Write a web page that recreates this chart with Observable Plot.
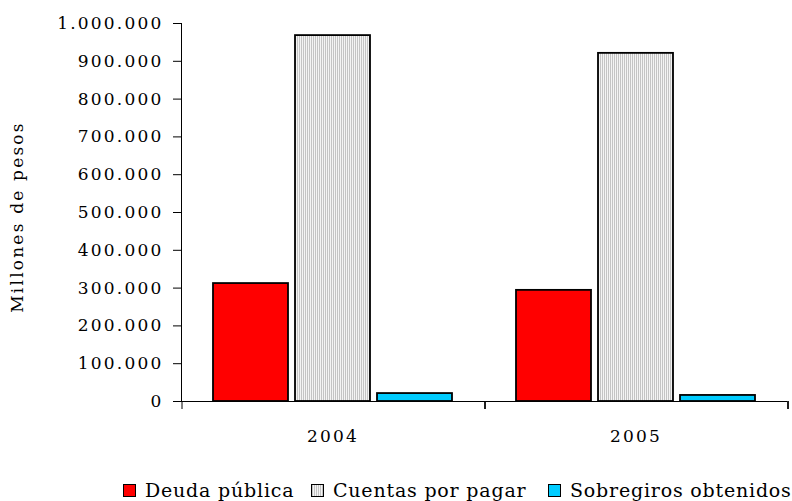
<!DOCTYPE html>
<html>
<head>
<meta charset="utf-8">
<script src="https://cdn.jsdelivr.net/npm/d3@7"></script>
<script src="https://cdn.jsdelivr.net/npm/@observablehq/plot@0.6"></script>
<style>
  html, body { margin: 0; padding: 0; background: #fff; }
  #chart { width: 792px; }
  .legend { position: relative; height: 31px; font-family: "DejaVu Serif", serif; font-size: 19px; letter-spacing: 0.8px; color: #000; }
  .legend .item { position: absolute; top: 10px; display: flex; align-items: center; white-space: nowrap; line-height: 21px; }
  .legend .sw { width: 11px; height: 11px; border: 1.5px solid #000; margin-right: 9px; box-sizing: content-box; }
</style>
</head>
<body>
<div id="chart"></div>
<script>
// ---- data ----
const years = ["2004", "2005"];
const seriesNames = ["Deuda pública", "Cuentas por pagar", "Sobregiros obtenidos"];
const deudaPublica = [312000, 294000];
const cuentasPorPagar = [968000, 921000];
const sobregiros = [21000, 16000];
const yTicks = [0, 100000, 200000, 300000, 400000, 500000, 600000, 700000, 800000, 900000, 1000000];
const seriesColors = ["#ff0000", "url(#stripes)", "#00ccff"];
const yLabel = "Millones de pesos";

const valuesBySeries = [deudaPublica, cuentasPorPagar, sobregiros];
const table = [];
years.forEach((yr, i) => seriesNames.forEach((s, j) => table.push({year: yr, series: s, value: valuesBySeries[j][i]})));

const fmt = d3.formatLocale({decimal: ",", thousands: ".", grouping: [3], currency: ["", ""]}).format(",d");

// short category-boundary ticks below the baseline, placed with the fx scale
const boundaryTicks = (index, scales, values, dimensions) => {
  const g = d3.create("svg:g");
  const y0 = scales.y(0);
  let edges;
  if (scales.fx && scales.fx.bandwidth) {
    const fx = scales.fx;
    edges = years.flatMap(k => [fx(k), fx(k) + fx.bandwidth()]);
  } else {
    edges = [dimensions.marginLeft, dimensions.width - dimensions.marginRight];
  }
  for (const x of edges) {
    g.append("line").attr("x1", x).attr("x2", x).attr("y1", y0).attr("y2", y0 + 8)
      .attr("stroke", "#000").attr("stroke-width", 1);
  }
  return g.node();
};

const svg = Plot.plot({
  width: 792,
  height: 470,
  marginLeft: 180,
  marginRight: 5,
  marginTop: 23,
  marginBottom: 69,
  style: {fontFamily: "DejaVu Serif, serif", fontSize: "17px", letterSpacing: "2.2px", color: "#000", background: "#fff"},
  fx: {domain: years, padding: 0, label: null},
  x: {domain: seriesNames, paddingInner: 0.085, paddingOuter: 0.39, axis: null},
  y: {domain: [0, 1000000], ticks: yTicks, tickFormat: fmt, tickSize: 8, tickPadding: 10, label: null, line: true},
  color: {domain: seriesNames, range: seriesColors},
  marks: [
    Plot.axisFx({anchor: "bottom", tickSize: 0, tickPadding: 28, label: null}),
    Plot.barY(table, {fx: "year", x: "series", y: "value", fill: "series", stroke: "#000", strokeWidth: 1.8}),
    Plot.ruleY([0], {stroke: "#000", strokeWidth: 1}),
    boundaryTicks
  ]
});

// stripe pattern for the grey series
const defs = d3.select(svg).insert("defs", ":first-child");
const pat = defs.append("pattern").attr("id", "stripes").attr("patternUnits", "userSpaceOnUse")
  .attr("width", 2).attr("height", 2);
pat.append("rect").attr("width", 2).attr("height", 2).attr("fill", "#f4f4f4");
pat.append("rect").attr("width", 1).attr("height", 2).attr("fill", "#c4c4c4");

// y axis title
d3.select(svg).append("text")
  .attr("transform", "translate(23,217) rotate(-90)")
  .attr("text-anchor", "middle")
  .attr("font-size", 17)
  .attr("fill", "#000")
  .text(yLabel);

document.getElementById("chart").appendChild(svg);

// legend
const legend = d3.select("#chart").append("div").attr("class", "legend");
const legendX = [123, 311, 548];
const swatchBg = ["#ff0000", "repeating-linear-gradient(90deg, #c4c4c4 0 1px, #f4f4f4 1px 2px)", "#00ccff"];
seriesNames.forEach((s, i) => {
  const it = legend.append("div").attr("class", "item").style("left", legendX[i] + "px");
  it.append("div").attr("class", "sw").style("background", swatchBg[i]);
  it.append("span").text(s);
});
</script>
</body>
</html>
